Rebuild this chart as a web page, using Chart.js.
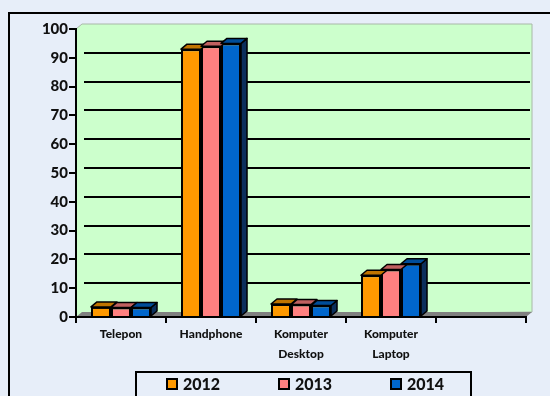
<!DOCTYPE html>
<html>
<head>
<meta charset="utf-8">
<script src="https://cdn.jsdelivr.net/npm/chart.js@4.4.0/dist/chart.umd.min.js"></script>
<style>
  body { margin: 0; background: #e7eef9; }
  #wrap { position: relative; width: 550px; height: 396px; overflow: hidden; }
  #legend {
    position: absolute; left: 135px; top: 371px; width: 337px; height: 40px;
    border: 2px solid #000; box-sizing: border-box;
    font: 900 16px Lato, sans-serif; color: #111;
  }
  .item { position: absolute; top: 1px; display: flex; align-items: center; }
  .sw { width: 12px; height: 12px; border: 2px solid #000; box-sizing: border-box; margin-right: 5px; }
</style>
</head>
<body>
<div id="wrap">
  <canvas id="c" width="550" height="396"></canvas>
  <div id="legend"></div>
</div>
<script>
const categories = ['Telepon', 'Handphone', ['Komputer', 'Desktop'], ['Komputer', 'Laptop'], ''];
const years = ['2012', '2013', '2014'];
const values2012 = [3.5, 93, 4.5, 14.5, null];
const values2013 = [3.3, 94, 4.3, 16.5, null];
const values2014 = [3.3, 95, 4, 18.5, null];
const yTicks = [0, 10, 20, 30, 40, 50, 60, 70, 80, 90, 100];

const fronts = ['#ff9900', '#ff8080', '#0066cc'];
const tops = ['#c07400', '#c06060', '#004d99'];
const sides = ['#b06a00', '#b05858', '#0b2f5c'];
const depth = { x: 6, y: -5 };

// back wall, left wall, floor and gridlines, drawn before the axes
const wallPlugin = {
  id: 'wall',
  beforeDraw(chart) {
    const { ctx, chartArea: a, scales: { y } } = chart;
    const dx = depth.x, dy = depth.y;
    ctx.save();
    ctx.strokeStyle = '#000';
    ctx.lineWidth = 2;
    ctx.strokeRect(9, 13, 600, 450);

    ctx.fillStyle = '#ccffcc';
    ctx.beginPath();
    ctx.moveTo(a.left, a.top);
    ctx.lineTo(a.left + dx, a.top + dy);
    ctx.lineTo(a.right + dx, a.top + dy);
    ctx.lineTo(a.right + dx, a.bottom + dy);
    ctx.lineTo(a.left, a.bottom);
    ctx.closePath();
    ctx.fill();
    ctx.strokeStyle = '#a8b8a8';
    ctx.lineWidth = 1;
    ctx.stroke();

    ctx.strokeStyle = '#000';
    ctx.lineWidth = 2;
    yTicks.filter(v => v > 0 && v < 100).forEach(v => {
      const py = Math.round(y.getPixelForValue(v) + dy);
      ctx.beginPath();
      ctx.moveTo(a.left + dx + 2, py);
      ctx.lineTo(a.right + dx - 2, py);
      ctx.stroke();
    });

    ctx.fillStyle = '#808080';
    ctx.beginPath();
    ctx.moveTo(a.left, a.bottom);
    ctx.lineTo(a.left + dx, a.bottom + dy);
    ctx.lineTo(a.right + dx, a.bottom + dy);
    ctx.lineTo(a.right, a.bottom);
    ctx.closePath();
    ctx.fill();
    ctx.restore();
  }
};

// top faces of every column, side face of the rightmost one in each group
const columnPlugin = {
  id: 'columns',
  afterDatasetsDraw(chart) {
    const { ctx } = chart;
    const dx = depth.x, dy = depth.y;
    const last = chart.data.datasets.length - 1;
    ctx.save();
    ctx.strokeStyle = '#000';
    ctx.lineWidth = 1.5;
    ctx.lineJoin = 'round';
    chart.data.datasets.forEach((ds, i) => {
      chart.getDatasetMeta(i).data.forEach((el, j) => {
        if (ds.data[j] == null) return;
        const { x, y, base, width } = el.getProps(['x', 'y', 'base', 'width'], true);
        const l = x - width / 2, r = x + width / 2;
        if (i === last) {
          ctx.fillStyle = sides[i];
          ctx.beginPath();
          ctx.moveTo(r, y);
          ctx.lineTo(r + dx, y + dy);
          ctx.lineTo(r + dx, base + dy);
          ctx.lineTo(r, base);
          ctx.closePath();
          ctx.fill();
          ctx.stroke();
        }
        ctx.fillStyle = tops[i];
        ctx.beginPath();
        ctx.moveTo(l, y);
        ctx.lineTo(l + dx, y + dy);
        ctx.lineTo(r + dx, y + dy);
        ctx.lineTo(r, y);
        ctx.closePath();
        ctx.fill();
        ctx.stroke();
      });
    });
    ctx.restore();
  }
};

const series = [values2012, values2013, values2014];

new Chart(document.getElementById('c'), {
  type: 'bar',
  data: {
    labels: categories,
    datasets: years.map((yr, i) => ({
      label: yr,
      data: series[i],
      backgroundColor: fronts[i],
      borderColor: '#000',
      borderWidth: 2,
      categoryPercentage: 0.667,
      barPercentage: 1,
    })),
  },
  options: {
    responsive: false,
    animation: false,
    layout: { padding: { left: 0, top: 29, right: 24, bottom: 0 } },
    plugins: { legend: { display: false }, tooltip: { enabled: false } },
    scales: {
      x: {
        afterFit: s => { s.height = 79; },
        grid: { offset: true, drawOnChartArea: false, tickLength: 6, color: '#000', lineWidth: 2 },
        border: { color: '#000', width: 2 },
        ticks: { color: '#111', padding: 1, maxRotation: 0, autoSkip: false,
                 font: { family: 'Lato', weight: '900', size: 12, lineHeight: 1.65 } },
      },
      y: {
        min: 0, max: 100,
        afterFit: s => { s.width = 76; },
        afterBuildTicks: s => { s.ticks = yTicks.map(v => ({ value: v })); },
        grid: { drawOnChartArea: false, tickLength: 7, color: '#000', lineWidth: 2 },
        border: { color: '#000', width: 2 },
        ticks: { color: '#111', padding: 1, font: { family: 'Lato', weight: '900', size: 15 } },
      },
    },
  },
  plugins: [wallPlugin, columnPlugin],
});

const legend = document.getElementById('legend');
years.forEach((yr, i) => {
  const item = document.createElement('div');
  item.className = 'item';
  item.style.left = (29 + i * 112) + 'px';
  item.innerHTML = '<span class="sw" style="background:' + fronts[i] + '"></span><span>' + yr + '</span>';
  legend.appendChild(item);
});
</script>
</body>
</html>
